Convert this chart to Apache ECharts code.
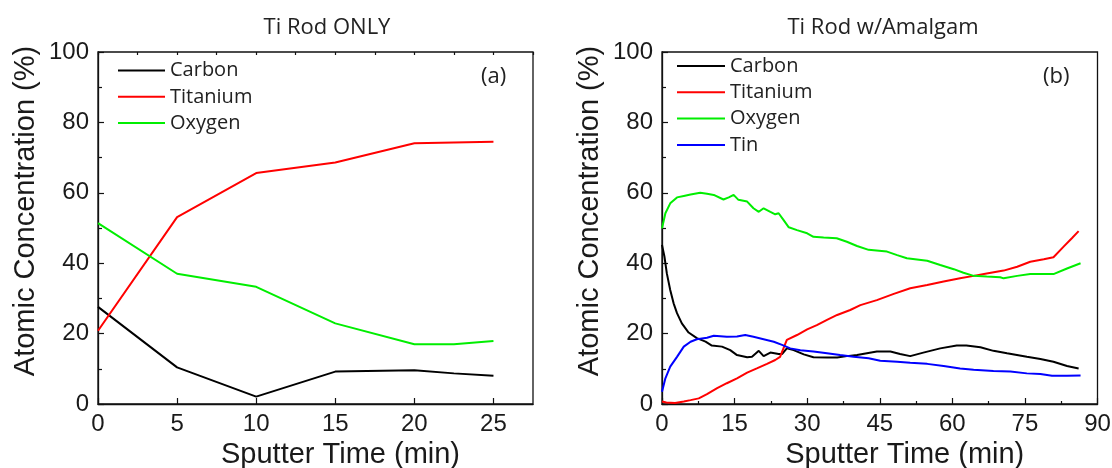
<!DOCTYPE html>
<html><head><meta charset="utf-8">
<script src="https://cdn.jsdelivr.net/npm/echarts@6/dist/echarts.min.js"></script>
<style>html,body{margin:0;padding:0;background:#fff}#c{width:1112px;height:468px}</style>
</head><body><div id="c"></div>
<script>
const panelTitles = ['Ti Rod ONLY', 'Ti Rod w/Amalgam'];
const panelTags = ['(a)', '(b)'];
const xName = 'Sputter Time (min)';
const yName = 'Atomic Concentration (%)';
const seriesNames = ['Carbon', 'Titanium', 'Oxygen', 'Tin'];
const seriesColors = ['#000000', '#ff0000', '#00ee00', '#0000ff'];

// Panel (a)
const timeA = [0, 5, 10, 15, 20, 22.5, 25];
const carbonA = [27.6, 10.4, 2.1, 9.2, 9.6, 8.7, 8.0];
const titaniumA = [20.8, 53.1, 65.6, 68.6, 74.1, 74.3, 74.5];
const oxygenA = [51.4, 37.0, 33.3, 22.9, 17.0, 17.0, 17.9];

// Panel (b) : [time, value]
const carbonB = [[0,45.2],[0.5,41.9],[1,37.1],[1.7,32.4],[2.4,28.6],[3.1,25.8],[4.1,22.9],[5.5,20.3],[7.2,18.7],[9,17.7],[10.3,16.6],[12.4,16.3],[14.1,15.3],[15.5,13.9],[17.6,13.3],[18.6,13.4],[20,15.1],[21,13.6],[22.4,14.6],[24.1,14.2],[24.8,14.2],[25.8,15.8],[27.2,15.3],[29.3,14.1],[31.3,13.3],[34.1,13.2],[36.2,13.2],[38.2,13.6],[40.3,13.9],[44.4,14.9],[47.2,14.9],[49.2,14.2],[51.3,13.6],[54,14.6],[57.5,15.8],[60.9,16.6],[62.9,16.6],[65.8,16.1],[68.5,15.1],[71.3,14.4],[75.4,13.4],[78.2,12.8],[80.9,12.0],[83.7,10.8],[86.1,10.1]];
const titaniumB = [[0,0.7],[0.9,0.4],[2.7,0.3],[4.5,0.7],[5.9,1.1],[7.6,1.6],[9.3,2.8],[11.4,4.5],[13.4,5.9],[15.5,7.3],[17.6,8.9],[19.6,10.1],[21.7,11.4],[23.4,12.5],[24.4,13.4],[25.1,15.8],[25.8,18.2],[27.9,19.6],[30,21.2],[32,22.4],[34.1,23.9],[36.2,25.3],[38.9,26.7],[41,28.1],[44.4,29.5],[47.9,31.3],[51.3,32.9],[54.8,33.8],[58.2,34.8],[61.6,35.7],[64.4,36.4],[67.1,37.1],[70.6,37.9],[73.4,39.0],[76.1,40.4],[78.9,41.1],[80.9,41.7],[83,44.7],[84.7,47.1],[86.1,49.1]];
const oxygenB = [[0,49.9],[0.7,54.2],[1.7,57],[3.1,58.7],[4.5,59.1],[5.9,59.5],[7.9,60.0],[9.3,59.7],[10.7,59.4],[12.7,58.1],[13.8,58.7],[14.8,59.4],[15.8,58.0],[17.6,57.5],[18.9,55.6],[20,54.6],[21,55.6],[22.4,54.6],[23.4,53.9],[24.1,54.2],[25.1,52.3],[26.2,50.2],[27.9,49.4],[30,48.5],[31.3,47.5],[33.4,47.3],[36.1,47.1],[38.2,46.1],[40.3,44.9],[42.7,43.8],[46.5,43.3],[48.6,42.3],[50.6,41.4],[54.8,40.7],[57.5,39.5],[60.3,38.3],[62.3,37.3],[64.4,36.4],[67.1,36.2],[69.9,36.0],[70.6,35.7],[73.4,36.4],[76.1,36.9],[80.9,36.9],[83.7,38.5],[86.5,40.0]];
const tinB = [[0,3.5],[0.7,7.3],[1.7,10.6],[3.1,13.4],[4.5,16.3],[5.9,17.7],[7.2,18.4],[9.3,18.8],[10.7,19.4],[13.4,19.1],[15.5,19.2],[17.2,19.6],[18.9,19.1],[21,18.4],[23.1,17.7],[24.8,16.8],[26.5,15.8],[28.6,15.3],[31.3,14.9],[34.1,14.4],[36.8,13.9],[39.6,13.4],[42.7,13.0],[45.1,12.3],[48.6,12.0],[51.3,11.7],[54.8,11.4],[58.2,10.8],[61.6,10.1],[64.4,9.7],[68.5,9.4],[72,9.2],[75.4,8.7],[78.2,8.5],[80.6,8.0],[83.7,8.0],[86.5,8.1]];

const zipA = arr => timeA.map((t, i) => [t, arr[i]]);

const AX = '#111';
const tickFont = { fontFamily: 'Liberation Sans', fontSize: 24, color: '#1a1a1a' };
const nameFont = { fontFamily: 'Liberation Sans', fontSize: 29, color: '#1a1a1a' };
const calFont = 'Open Sans';

function mainX(grid, max, interval, minor) {
  return {
    type: 'value', gridIndex: grid, min: 0, max: max, interval: interval,
    name: xName, nameLocation: 'middle', nameGap: 34,
    nameTextStyle: Object.assign({ padding: [0, 0, 0, 50] }, nameFont),
    axisLine: { show: true, lineStyle: { color: AX, width: 1.3 } },
    axisTick: { show: true, inside: true, length: 6, lineStyle: { color: AX, width: 1.2 } },
    minorTick: { show: minor, splitNumber: 2, length: 3, lineStyle: { color: AX, width: 1.2 } },
    axisLabel: Object.assign({ margin: 8, showMaxLabel: minor }, tickFont),
    splitLine: { show: false }, minorSplitLine: { show: false }
  };
}
function yAx(grid) {
  return {
    type: 'value', gridIndex: grid, min: 0, max: 100, interval: 20,
    name: yName, nameLocation: 'middle', nameGap: 58,
    nameTextStyle: Object.assign({ padding: [0, 0, 0, 34] }, nameFont),
    axisLine: { show: true, lineStyle: { color: AX, width: 1.3 } },
    axisTick: { show: true, inside: true, length: 6, lineStyle: { color: AX, width: 1.2 } },
    minorTick: { show: true, splitNumber: 2, length: 4, lineStyle: { color: AX, width: 1.2 } },
    axisLabel: Object.assign({ margin: 9 }, tickFont),
    splitLine: { show: false }, minorSplitLine: { show: false }
  };
}
function line(name, xi, yi, data) {
  const c = seriesColors[seriesNames.indexOf(name)];
  return {
    type: 'line', name: name, xAxisIndex: xi, yAxisIndex: yi, data: data,
    showSymbol: false, symbol: 'none', color: c,
    lineStyle: { color: c, width: 2 }, animation: false
  };
}

const option = {
  animation: false,
  backgroundColor: '#ffffff',
  title: [
    { text: panelTitles[0], left: 327, top: 17, textAlign: 'center', padding: 0,
      textStyle: { fontFamily: calFont, fontSize: 22, fontWeight: 'normal', color: '#222' } },
    { text: panelTitles[1], left: 883, top: 17, textAlign: 'center', padding: 0,
      textStyle: { fontFamily: calFont, fontSize: 22, fontWeight: 'normal', color: '#222' } }
  ],
  grid: [
    { left: 98, right: 579, top: 52, bottom: 64, show: true, borderColor: AX, borderWidth: 1.3, backgroundColor: 'transparent', containLabel: false, outerBoundsMode: 'none' },
    { left: 662, right: 14.5, top: 52, bottom: 64, show: true, borderColor: AX, borderWidth: 1.3, backgroundColor: 'transparent', containLabel: false, outerBoundsMode: 'none' }
  ],
  xAxis: [
    mainX(0, 27.5, 5, false),
    {
      type: 'value', gridIndex: 0, min: 0, max: 27.5, interval: 2.5,
      axisLine: { show: false }, axisLabel: { show: false },
      axisTick: { show: true, inside: true, length: 3, lineStyle: { color: AX, width: 1.2 } },
      splitLine: { show: false }
    },
    mainX(1, 90, 15, true)
  ],
  yAxis: [yAx(0), yAx(1)],
  legend: [
    { data: seriesNames.slice(0, 3), orient: 'vertical', left: 118, top: 60.5, icon: 'rect',
      itemWidth: 47, itemHeight: 2, itemGap: 6.3, padding: 0,
      textStyle: { fontFamily: calFont, fontSize: 20, color: '#222', lineHeight: 20 } },
    { data: seriesNames.slice(0, 4), orient: 'vertical', left: 677, top: 56, icon: 'rect',
      itemWidth: 48, itemHeight: 2, itemGap: 6.3, padding: 0,
      textStyle: { fontFamily: calFont, fontSize: 20, color: '#222', lineHeight: 20 } }
  ],
  graphic: [
    { type: 'text', left: 481, top: 66, style: { text: panelTags[0], font: '22px "Open Sans"', fill: '#222' } },
    { type: 'text', left: 1043, top: 66, style: { text: panelTags[1], font: '22px "Open Sans"', fill: '#222' } }
  ],
  series: [
    line('Carbon', 0, 0, zipA(carbonA)),
    line('Titanium', 0, 0, zipA(titaniumA)),
    line('Oxygen', 0, 0, zipA(oxygenA)),
    line('Carbon', 2, 1, carbonB),
    line('Titanium', 2, 1, titaniumB),
    line('Oxygen', 2, 1, oxygenB),
    line('Tin', 2, 1, tinB)
  ]
};
const chart = echarts.init(document.getElementById('c'), null, { renderer: 'canvas' });
chart.setOption(option);
</script></body></html>
